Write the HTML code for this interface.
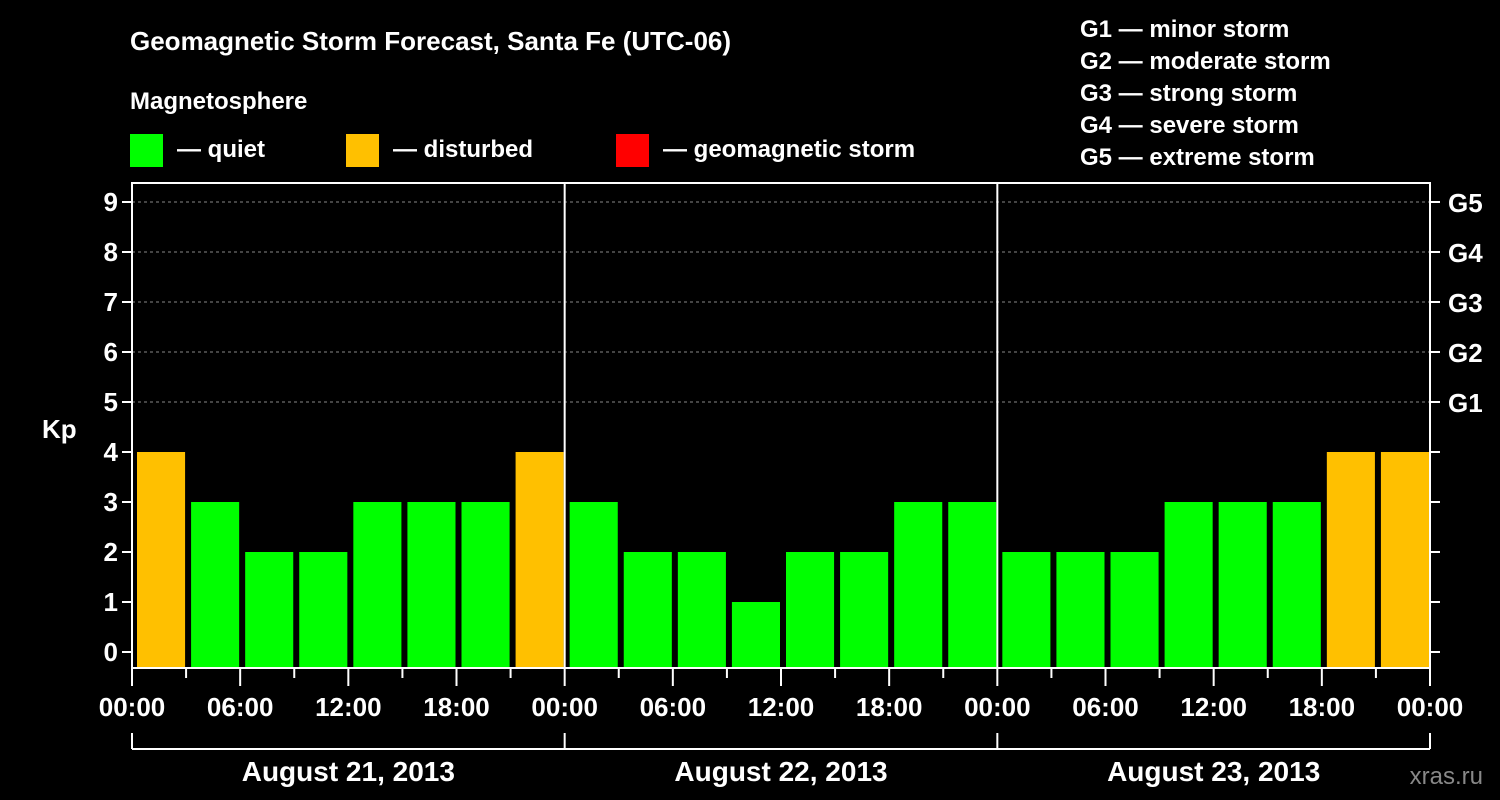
<!DOCTYPE html>
<html><head><meta charset="utf-8"><style>
body{margin:0;background:#000;}
svg{display:block;font-family:"Liberation Sans",sans-serif;font-weight:bold;}
</style></head><body>
<svg id="c" width="1500" height="800" viewBox="0 0 1500 800">
<rect width="1500" height="800" fill="#000"/>
<text x="130" y="50" fill="#fff" font-size="26">Geomagnetic Storm Forecast, Santa Fe (UTC-06)</text>
<text x="130" y="109" fill="#fff" font-size="24">Magnetosphere</text>
<g>
<rect x="130" y="134" width="33" height="33" fill="#00ff00"/>
<text x="177" y="157" fill="#fff" font-size="24">— quiet</text>
<rect x="346" y="134" width="33" height="33" fill="#ffc000"/>
<text x="393" y="157" fill="#fff" font-size="24">— disturbed</text>
<rect x="616" y="134" width="33" height="33" fill="#ff0000"/>
<text x="663" y="157" fill="#fff" font-size="24">— geomagnetic storm</text>
</g>
<g fill="#fff" font-size="24">
<text x="1080" y="37">G1 — minor storm</text>
<text x="1080" y="69">G2 — moderate storm</text>
<text x="1080" y="101">G3 — strong storm</text>
<text x="1080" y="133">G4 — severe storm</text>
<text x="1080" y="165">G5 — extreme storm</text>
</g>
<text x="42" y="438" fill="#fff" font-size="26">Kp</text>
<text x="1483" y="784" fill="#888" font-size="24" text-anchor="end" font-weight="normal">xras.ru</text>
<g id="plot"></g>
</svg>
<script>
const days = ["August 21, 2013","August 22, 2013","August 23, 2013"];
const kpValues = [4,3,2,2,3,3,3,4, 3,2,2,1,2,2,3,3, 2,2,2,3,3,3,4,4];
const yTicks = [0,1,2,3,4,5,6,7,8,9];
const gLabels = ["G1","G2","G3","G4","G5"];
const xTickLabels = ["00:00","06:00","12:00","18:00"];

const NS="http://www.w3.org/2000/svg";
const L=132,R=1430,T=183,B=668;
const dayW=(R-L)/3, slot=dayW/8;
const y=v=>652-v*50;
const x=h=>L+h*(dayW/24);
const plot=document.getElementById('plot');
function mk(t,a,p){const e=document.createElementNS(NS,t);for(const k in a)e.setAttribute(k,a[k]);(p||plot).appendChild(e);return e;}
// grid
yTicks.forEach(v=>{
  if(v>=5){const g=mk('line',{x1:L,x2:R,y1:y(v),y2:y(v),stroke:'#888','stroke-dasharray':'3,3','stroke-width':1});
  
  }
  const t=mk('line',{x1:L-10,x2:L,y1:y(v),y2:y(v),stroke:'#fff','stroke-width':2});
  
  
  const t2=mk('line',{x1:R,x2:R+10,y1:y(v),y2:y(v),stroke:'#fff','stroke-width':2});
  
  
  const lb=mk('text',{x:L-14,y:y(v)+9,fill:'#fff','font-size':26,'text-anchor':'end'});
  lb.textContent=v;
  
  
  if(v>=5){const gl=mk('text',{x:R+18,y:y(v)+10,fill:'#fff','font-size':26});
  gl.textContent=gLabels[v-5];
  
  }
});
// bars
kpValues.forEach((v,i)=>{
  const c=v>=5?'#ff0000':(v>=4?'#ffc000':'#00ff00');
  const bx=L+i*slot+5;
  const b=mk('rect',{x:bx,y:y(v),width:slot-6,height:B-y(v),fill:c});
  
  
});
// frame
const fr=mk('rect',{x:L,y:T,width:R-L,height:B-T,fill:'none',stroke:'#fff','stroke-width':2});


for(let d=1;d<3;d++){const s=mk('line',{x1:L+d*dayW,x2:L+d*dayW,y1:T,y2:B,stroke:'#fff','stroke-width':2});

}
// x ticks
for(let h=0;h<=72;h+=3){
  const major=h%6===0;
  const t=mk('line',{x1:x(h),x2:x(h),y1:B,y2:B+(major?18:10),stroke:'#fff','stroke-width':2});
  
  
  if(major){const lb=mk('text',{x:x(h),y:716,fill:'#fff','font-size':26,'text-anchor':'middle'});
  lb.textContent=xTickLabels[(h%24)/6];
  
  }
}
// day brackets
const br=mk('line',{x1:L,x2:R,y1:749,y2:749,stroke:'#fff','stroke-width':2});


for(let d=0;d<=3;d++){const t=mk('line',{x1:L+d*dayW,x2:L+d*dayW,y1:733,y2:749,stroke:'#fff','stroke-width':2});

}
days.forEach((dn,d)=>{const lb=mk('text',{x:L+(d+0.5)*dayW,y:781,fill:'#fff','font-size':28,'text-anchor':'middle'});
lb.textContent=dn;

});
</script>
</body></html>
